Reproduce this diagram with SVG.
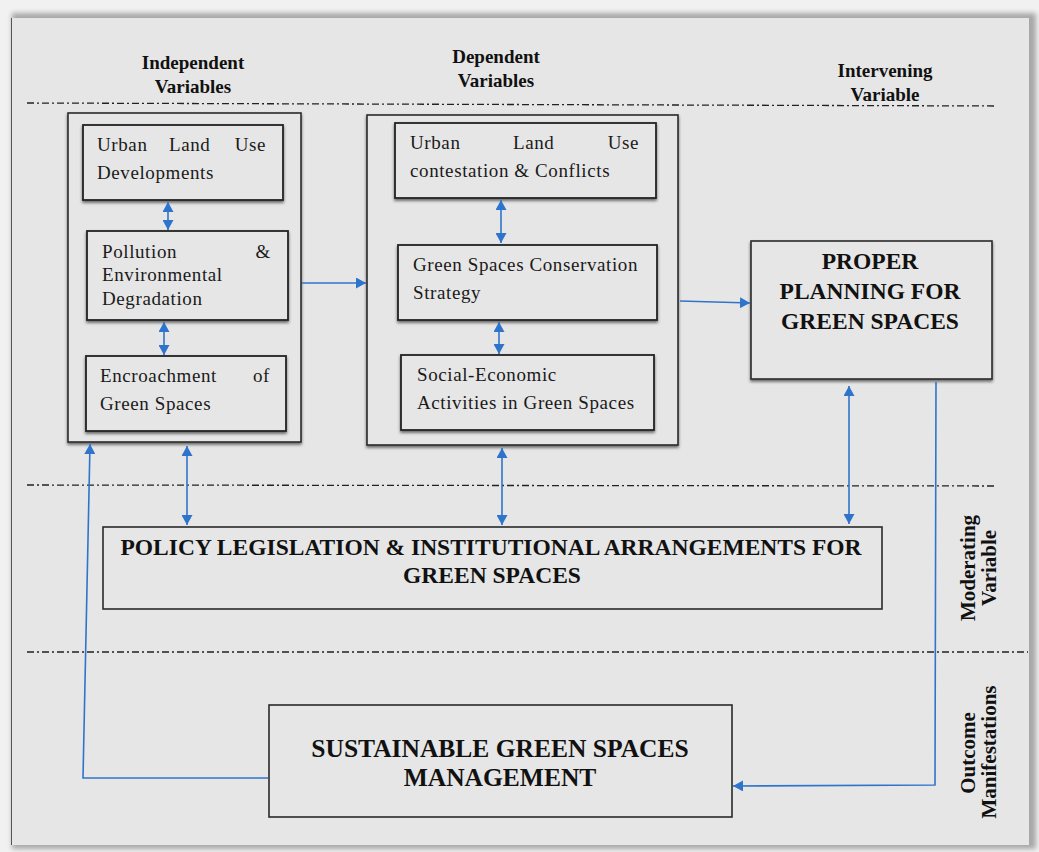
<svg xmlns="http://www.w3.org/2000/svg" width="1039" height="852" viewBox="0 0 1039 852">
<defs>
<style>
.bx{fill:#e6e6e6;stroke:#2a2a2a;stroke-width:1.6}
.ib{fill:#e6e6e6;stroke:#222;stroke-width:1.8;filter:url(#sh)}
.t{font-family:"Liberation Serif","Times New Roman",serif;font-size:19px;fill:#1a1a1a;letter-spacing:0.6px}
.e{text-anchor:end}
.b{font-family:"Liberation Serif","Times New Roman",serif;font-weight:bold;fill:#111;text-anchor:middle}
.h{font-size:19px}
.r{font-size:21px}
.big{font-size:23.5px}
.sus{font-size:25.5px}
.dd{stroke:#222;stroke-width:1.3;stroke-dasharray:7 3 2 3;fill:none}
.c{stroke:#2f74cc;stroke-width:1.6;fill:none}
</style>
<filter id="sh" x="-10%" y="-10%" width="120%" height="130%">
<feDropShadow dx="0" dy="2" stdDeviation="1.6" flood-color="#000" flood-opacity="0.55"/>
</filter>
<filter id="pb" x="-5%" y="-5%" width="110%" height="110%">
<feGaussianBlur stdDeviation="2.5"/>
</filter>
<marker id="ah" viewBox="0 0 10 10" refX="10" refY="5" markerWidth="10" markerHeight="11" markerUnits="userSpaceOnUse" orient="auto-start-reverse" preserveAspectRatio="none">
<path d="M0,0 L10,5 L0,10 z" fill="#2f74cc"/>
</marker>
</defs>
<rect x="0" y="0" width="1039" height="852" fill="#f1f1f1"/>
<rect x="12" y="13" width="1024" height="836" fill="#a8a8a8" filter="url(#pb)"/>
<rect x="11" y="18" width="1018" height="827" fill="#e6e6e6"/>
<line x1="11.5" y1="18" x2="11.5" y2="845" stroke="#555" stroke-width="1"/>

<g id="dividers">
<line class="dd" x1="27" y1="103" x2="997" y2="106"/>
<line class="dd" x1="27" y1="485" x2="997" y2="486"/>
<line class="dd" x1="27" y1="652" x2="1028" y2="652"/>
</g>

<g id="labels">
<text class="b h" x="193" y="69">Independent</text>
<text class="b h" x="193" y="93">Variables</text>
<text class="b h" x="496" y="63">Dependent</text>
<text class="b h" x="496" y="87">Variables</text>
<text class="b h" x="885" y="77">Intervening</text>
<text class="b h" x="885" y="101">Variable</text>
<text class="b r" transform="translate(975,568) rotate(-90)">Moderating</text>
<text class="b r" transform="translate(996,568) rotate(-90)">Variable</text>
<text class="b r" transform="translate(975,753) rotate(-90)">Outcome</text>
<text class="b r" transform="translate(996,752) rotate(-90)">Manifestations</text>
</g>

<g id="independent">
<rect class="bx" x="68" y="113" width="233" height="329" filter="url(#sh)"/>
</g>
<g id="urban-land-use-developments">
<rect class="ib" x="83" y="125" width="200" height="75"/>
<text class="t" x="97" y="151">Urban</text>
<text class="t" x="169" y="151">Land</text>
<text class="t e" x="266" y="151">Use</text>
<text class="t" x="97" y="179">Developments</text>
</g>
<g id="pollution">
<rect class="ib" x="87" y="231" width="201" height="89"/>
<text class="t" x="102" y="258">Pollution</text>
<text class="t e" x="271" y="258">&amp;</text>
<text class="t" x="102" y="281">Environmental</text>
<text class="t" x="102" y="305">Degradation</text>
</g>
<g id="encroachment">
<rect class="ib" x="86" y="356" width="200" height="75"/>
<text class="t" x="100" y="382">Encroachment</text>
<text class="t e" x="270" y="382">of</text>
<text class="t" x="100" y="410">Green Spaces</text>
</g>

<g id="dependent">
<rect class="bx" x="367" y="115" width="311" height="330" filter="url(#sh)"/>
</g>
<g id="contestation">
<rect class="ib" x="395" y="123" width="261" height="75"/>
<text class="t" x="410" y="149">Urban</text>
<text class="t" x="513" y="149">Land</text>
<text class="t e" x="639" y="149">Use</text>
<text class="t" x="410" y="177">contestation &amp; Conflicts</text>
</g>
<g id="conservation">
<rect class="ib" x="398" y="245" width="259" height="75"/>
<text class="t" x="413" y="271">Green Spaces Conservation</text>
<text class="t" x="413" y="299">Strategy</text>
</g>
<g id="socio-economic">
<rect class="ib" x="401" y="355" width="253" height="75"/>
<text class="t" x="417" y="381">Social-Economic</text>
<text class="t" x="417" y="409">Activities in Green Spaces</text>
</g>

<g id="proper-planning">
<rect class="bx" x="751" y="241" width="241" height="138" filter="url(#sh)"/>
<text class="b big" x="870" y="269">PROPER</text>
<text class="b big" x="870" y="299">PLANNING FOR</text>
<text class="b big" x="870" y="329">GREEN SPACES</text>
</g>

<g id="policy">
<rect class="bx" x="103" y="527" width="779" height="82"/>
<text class="b big" x="491" y="555">POLICY LEGISLATION &amp; INSTITUTIONAL ARRANGEMENTS FOR</text>
<text class="b big" x="492" y="583">GREEN SPACES</text>
</g>

<g id="sustainable">
<rect class="bx" x="269" y="705" width="463" height="112"/>
<text class="b sus" x="500" y="757">SUSTAINABLE GREEN SPACES</text>
<text class="b sus" x="500" y="786">MANAGEMENT</text>
</g>

<g id="connectors">
<line class="c" x1="168" y1="202" x2="168" y2="230" marker-start="url(#ah)" marker-end="url(#ah)"/>
<line class="c" x1="164" y1="322" x2="164" y2="355" marker-start="url(#ah)" marker-end="url(#ah)"/>
<line class="c" x1="302" y1="283" x2="366" y2="283" marker-end="url(#ah)"/>
<line class="c" x1="501" y1="200" x2="501" y2="243" marker-start="url(#ah)" marker-end="url(#ah)"/>
<line class="c" x1="499" y1="322" x2="499" y2="354" marker-start="url(#ah)" marker-end="url(#ah)"/>
<line class="c" x1="680" y1="301" x2="750" y2="303" marker-end="url(#ah)"/>
<line class="c" x1="849" y1="386" x2="849" y2="524" marker-start="url(#ah)" marker-end="url(#ah)"/>
<line class="c" x1="187" y1="446" x2="187" y2="525" marker-start="url(#ah)" marker-end="url(#ah)"/>
<line class="c" x1="502" y1="448" x2="502" y2="525" marker-start="url(#ah)" marker-end="url(#ah)"/>
<polyline class="c" points="936,382 935,785 733,786" marker-end="url(#ah)"/>
<polyline class="c" points="268,778 83,778 90,444" marker-end="url(#ah)"/>
</g>
</svg>
